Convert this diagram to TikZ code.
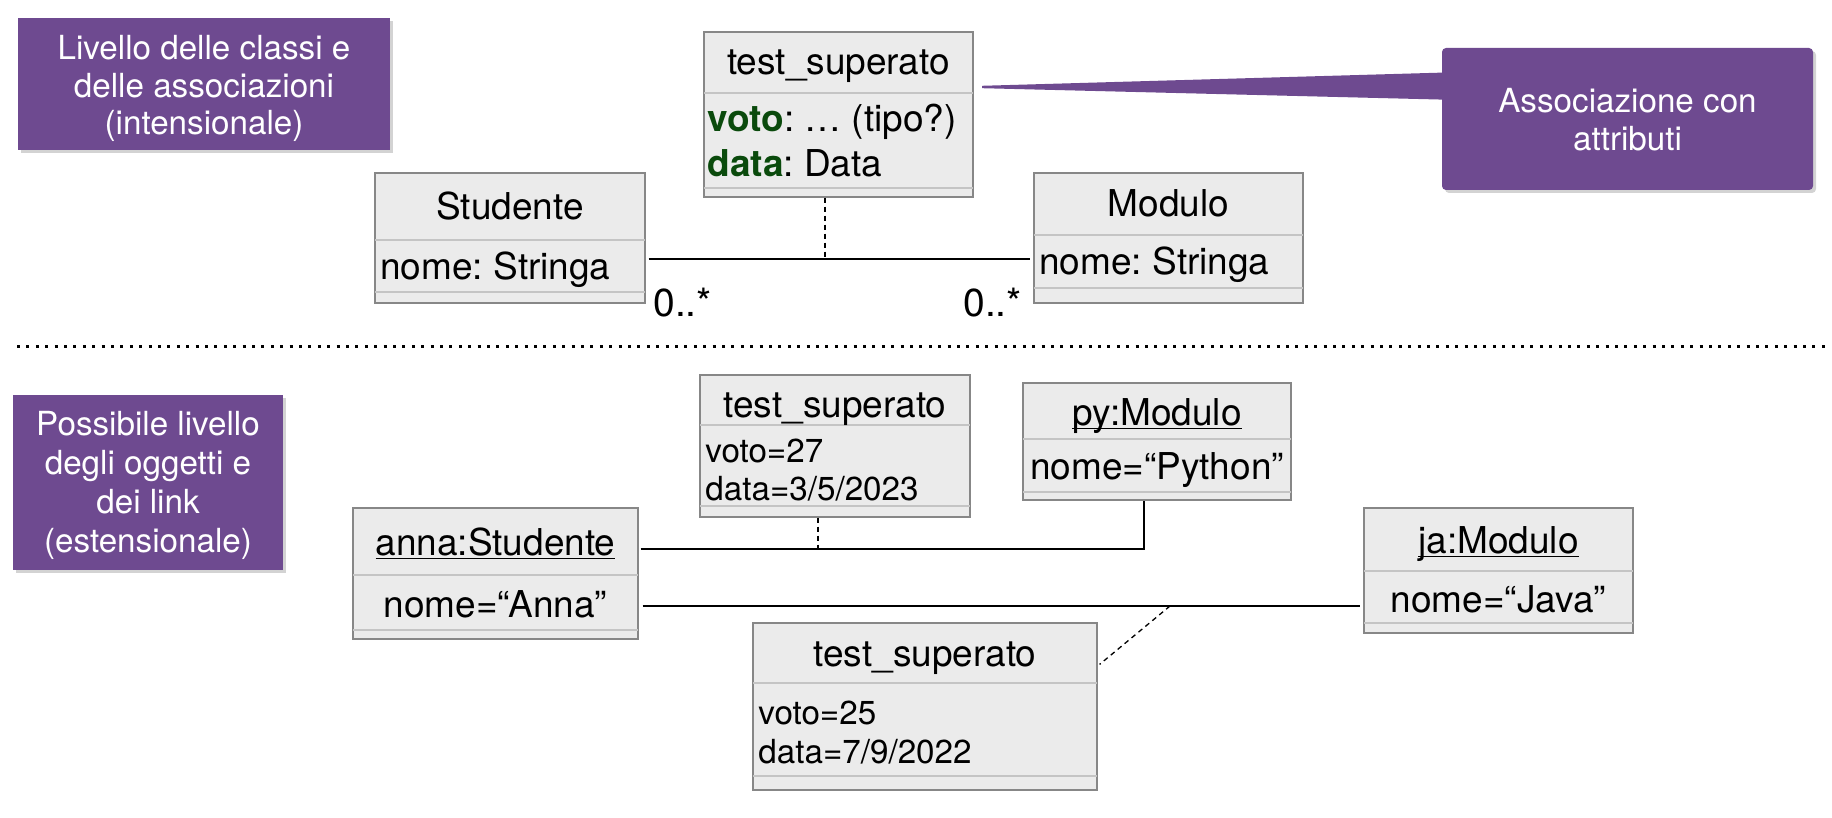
\documentclass[tikz,border=0pt]{standalone}
\usepackage{fontspec}
\setmainfont{TeX Gyre Heros}
\usetikzlibrary{calc,shadows}
\definecolor{purp}{RGB}{110,74,144}
\definecolor{dgreen}{RGB}{10,74,12}
\definecolor{boxfill}{RGB}{235,235,235}
\definecolor{boxline}{RGB}{135,135,135}
\definecolor{sepcol}{RGB}{196,196,196}
\newcommand\hdfont{\fontsize{18.5}{22}\selectfont}
\newcommand\smfont{\fontsize{16.6}{19}\selectfont}
\newcommand\notefont{\fontsize{16.6}{19}\selectfont}
\newcommand\mulfont{\fontsize{19.5}{22}\selectfont}
\newcommand\myul[1]{\setbox0\hbox{#1}\rlap{\rule[-2.2pt]{\wd0}{0.7pt}}\box0}
\frenchspacing
\begin{document}
\begin{tikzpicture}[x=0.5pt,y=-0.5pt,
  classbox/.style={draw=boxline, fill=boxfill, line width=0.6pt, inner sep=0pt},
  notebox/.style={fill=purp, inner sep=0pt, drop shadow={shadow xshift=1.5pt,shadow yshift=-1.5pt,opacity=0.35}},
  notetext/.style={text=white, inner sep=0pt, anchor=base, font=\notefont},
  hd/.style={inner sep=0pt, anchor=base, font=\hdfont},
  attr/.style={inner sep=0pt, anchor=base west, font=\hdfont},
  sattr/.style={inner sep=0pt, anchor=base west, font=\smfont},
  mult/.style={inner sep=0pt, anchor=base west, font=\mulfont},
  sepline/.style={draw=sepcol, line width=0.6pt},
  link/.style={line width=1pt, black},
  dlink/.style={line width=0.65pt, black, dash pattern=on 2.5pt off 2pt},
  dotsep/.style={line width=1.5pt, black, dash pattern=on 1.5pt off 3.2pt}]
\useasboundingbox (0,0) rectangle (1832,818);

% ---------- notes ----------
\node[notebox, minimum width=186pt, minimum height=66pt] (n1) at (204,84) {};
\node[notetext] (n1a) at (204,60) {Livello delle classi e};
\node[notetext] (n1b) at (204,98) {delle associazioni};
\node[notetext] (n1c) at (204,135) {(intensionale)};

\node[notebox, minimum width=135pt, minimum height=87.5pt] (n2) at (148,482.5) {};
\node[notetext] (n2a) at (148,435) {Possibile livello};
\node[notetext] (n2b) at (148,474) {degli oggetti e};
\node[notetext] (n2c) at (148,513) {dei link};
\node[notetext] (n2d) at (148,552) {(estensionale)};

\coordinate (tip) at (982,87);
\node[notebox, rounded corners=2pt, minimum width=185.5pt, minimum height=71pt] (call) at (1627.5,119) {};
\fill[purp] ([yshift=0.6pt]tip) -- ($(call.north west)+(1,25)$) -- ($(call.north west)+(1,52)$) -- ([yshift=-0.6pt]tip) -- cycle;
\node[notetext] (c1) at (1627.5,113) {Associazione con};
\node[notetext] (c2) at (1627.5,151) {attributi};

% ---------- class level ----------
\node[classbox, minimum width=134.5pt, minimum height=82.5pt] (A) at (838.5,114.5) {};
\draw[sepline] (704,93) -- (973,93);
\draw[sepline] (704,188) -- (973,188);
\node[hd] (Ah) at (838.5,75) {test\_superato};
\node[attr] (Av) at (707,132) {\textcolor{dgreen}{\textbf{voto}}: … (tipo?)};
\node[attr] (Ad) at (707,177) {\textcolor{dgreen}{\textbf{data}}: Data};

\node[classbox, minimum width=135pt, minimum height=65pt] (S) at (510,238) {};
\draw[sepline] (375,240) -- (645,240);
\draw[sepline] (375,292) -- (645,292);
\node[hd] (Sh) at (510,220) {Studente};
\node[attr] (Sa) at (380,280) {nome: Stringa};

\node[classbox, minimum width=134.5pt, minimum height=65pt] (M) at (1168.5,238) {};
\draw[sepline] (1034,235) -- (1303,235);
\draw[sepline] (1034,288) -- (1303,288);
\node[hd] (Mh) at (1168.5,217) {Modulo};
\node[attr] (Ma) at (1039,275) {nome: Stringa};

\coordinate (aY) at (0,259);
\coordinate (am) at (825,259);
\draw[link, shorten <=1.5pt, shorten >=1.5pt] (S.east |- aY) -- (M.west |- aY);
\draw[dlink] (am |- A.south) -- (am);
\node[mult] (m1) at (653,317) {0..*};
\node[mult] (m2) at (963,317) {0..*};

% ---------- separator ----------
\coordinate (d1) at (17,347);
\coordinate (d2) at (1825,347);
\draw[dotsep] (d1) -- (d2);

% ---------- object level ----------
\node[classbox, minimum width=135pt, minimum height=71pt] (B) at (835,446) {};
\draw[sepline] (700,425) -- (970,425);
\draw[sepline] (700,506) -- (970,506);
\node[hd] (Bh) at (835,417) {test\_superato};
\node[sattr] (Bv) at (705,462) {voto=27};
\node[sattr] (Bd) at (705,500) {data=3/5/2023};

\node[classbox, minimum width=142.5pt, minimum height=65.5pt] (anna) at (495.5,573.5) {};
\draw[sepline] (353,575) -- (638,575);
\draw[sepline] (353,630) -- (638,630);
\node[hd] (annah) at (495.5,555) {\myul{anna:Studente}};
\node[hd] (annaa) at (495.5,617) {nome=“Anna”};

\node[classbox, minimum width=134pt, minimum height=58.5pt] (py) at (1157,441.5) {};
\draw[sepline] (1023,439) -- (1291,439);
\draw[sepline] (1023,492) -- (1291,492);
\node[hd] (pyh) at (1157,425) {\myul{py:Modulo}};
\node[hd] (pya) at (1157,479) {nome=“Python”};

\node[classbox, minimum width=134.5pt, minimum height=62.5pt] (ja) at (1498.5,570.5) {};
\draw[sepline] (1364,571) -- (1633,571);
\draw[sepline] (1364,623) -- (1633,623);
\node[hd] (jah) at (1498.5,553) {\myul{ja:Modulo}};
\node[hd] (jaa) at (1498.5,612) {nome=“Java”};

\node[classbox, minimum width=172pt, minimum height=83.5pt] (C) at (925,706.5) {};
\draw[sepline] (753,683) -- (1097,683);
\draw[sepline] (753,776) -- (1097,776);
\node[hd] (Ch) at (925,666) {test\_superato};
\node[sattr] (Cv) at (758,724) {voto=25};
\node[sattr] (Cd) at (758,763) {data=7/9/2022};

% links
\coordinate (l1) at (1144,549);
\coordinate (bm) at (818,549);
\draw[link, shorten <=1pt] (anna.east |- l1) -- (l1) -- (l1 |- py.south);
\draw[dlink] (bm |- B.south) -- (bm);
\coordinate (l2) at (0,606);
\coordinate (cm) at (1170,606);
\draw[link, shorten <=2pt, shorten >=1.5pt] (anna.east |- l2) -- (ja.west |- l2);
\draw[dlink] (cm) -- ([xshift=1pt,yshift=-21pt]C.north east);
\end{tikzpicture}
\end{document}
